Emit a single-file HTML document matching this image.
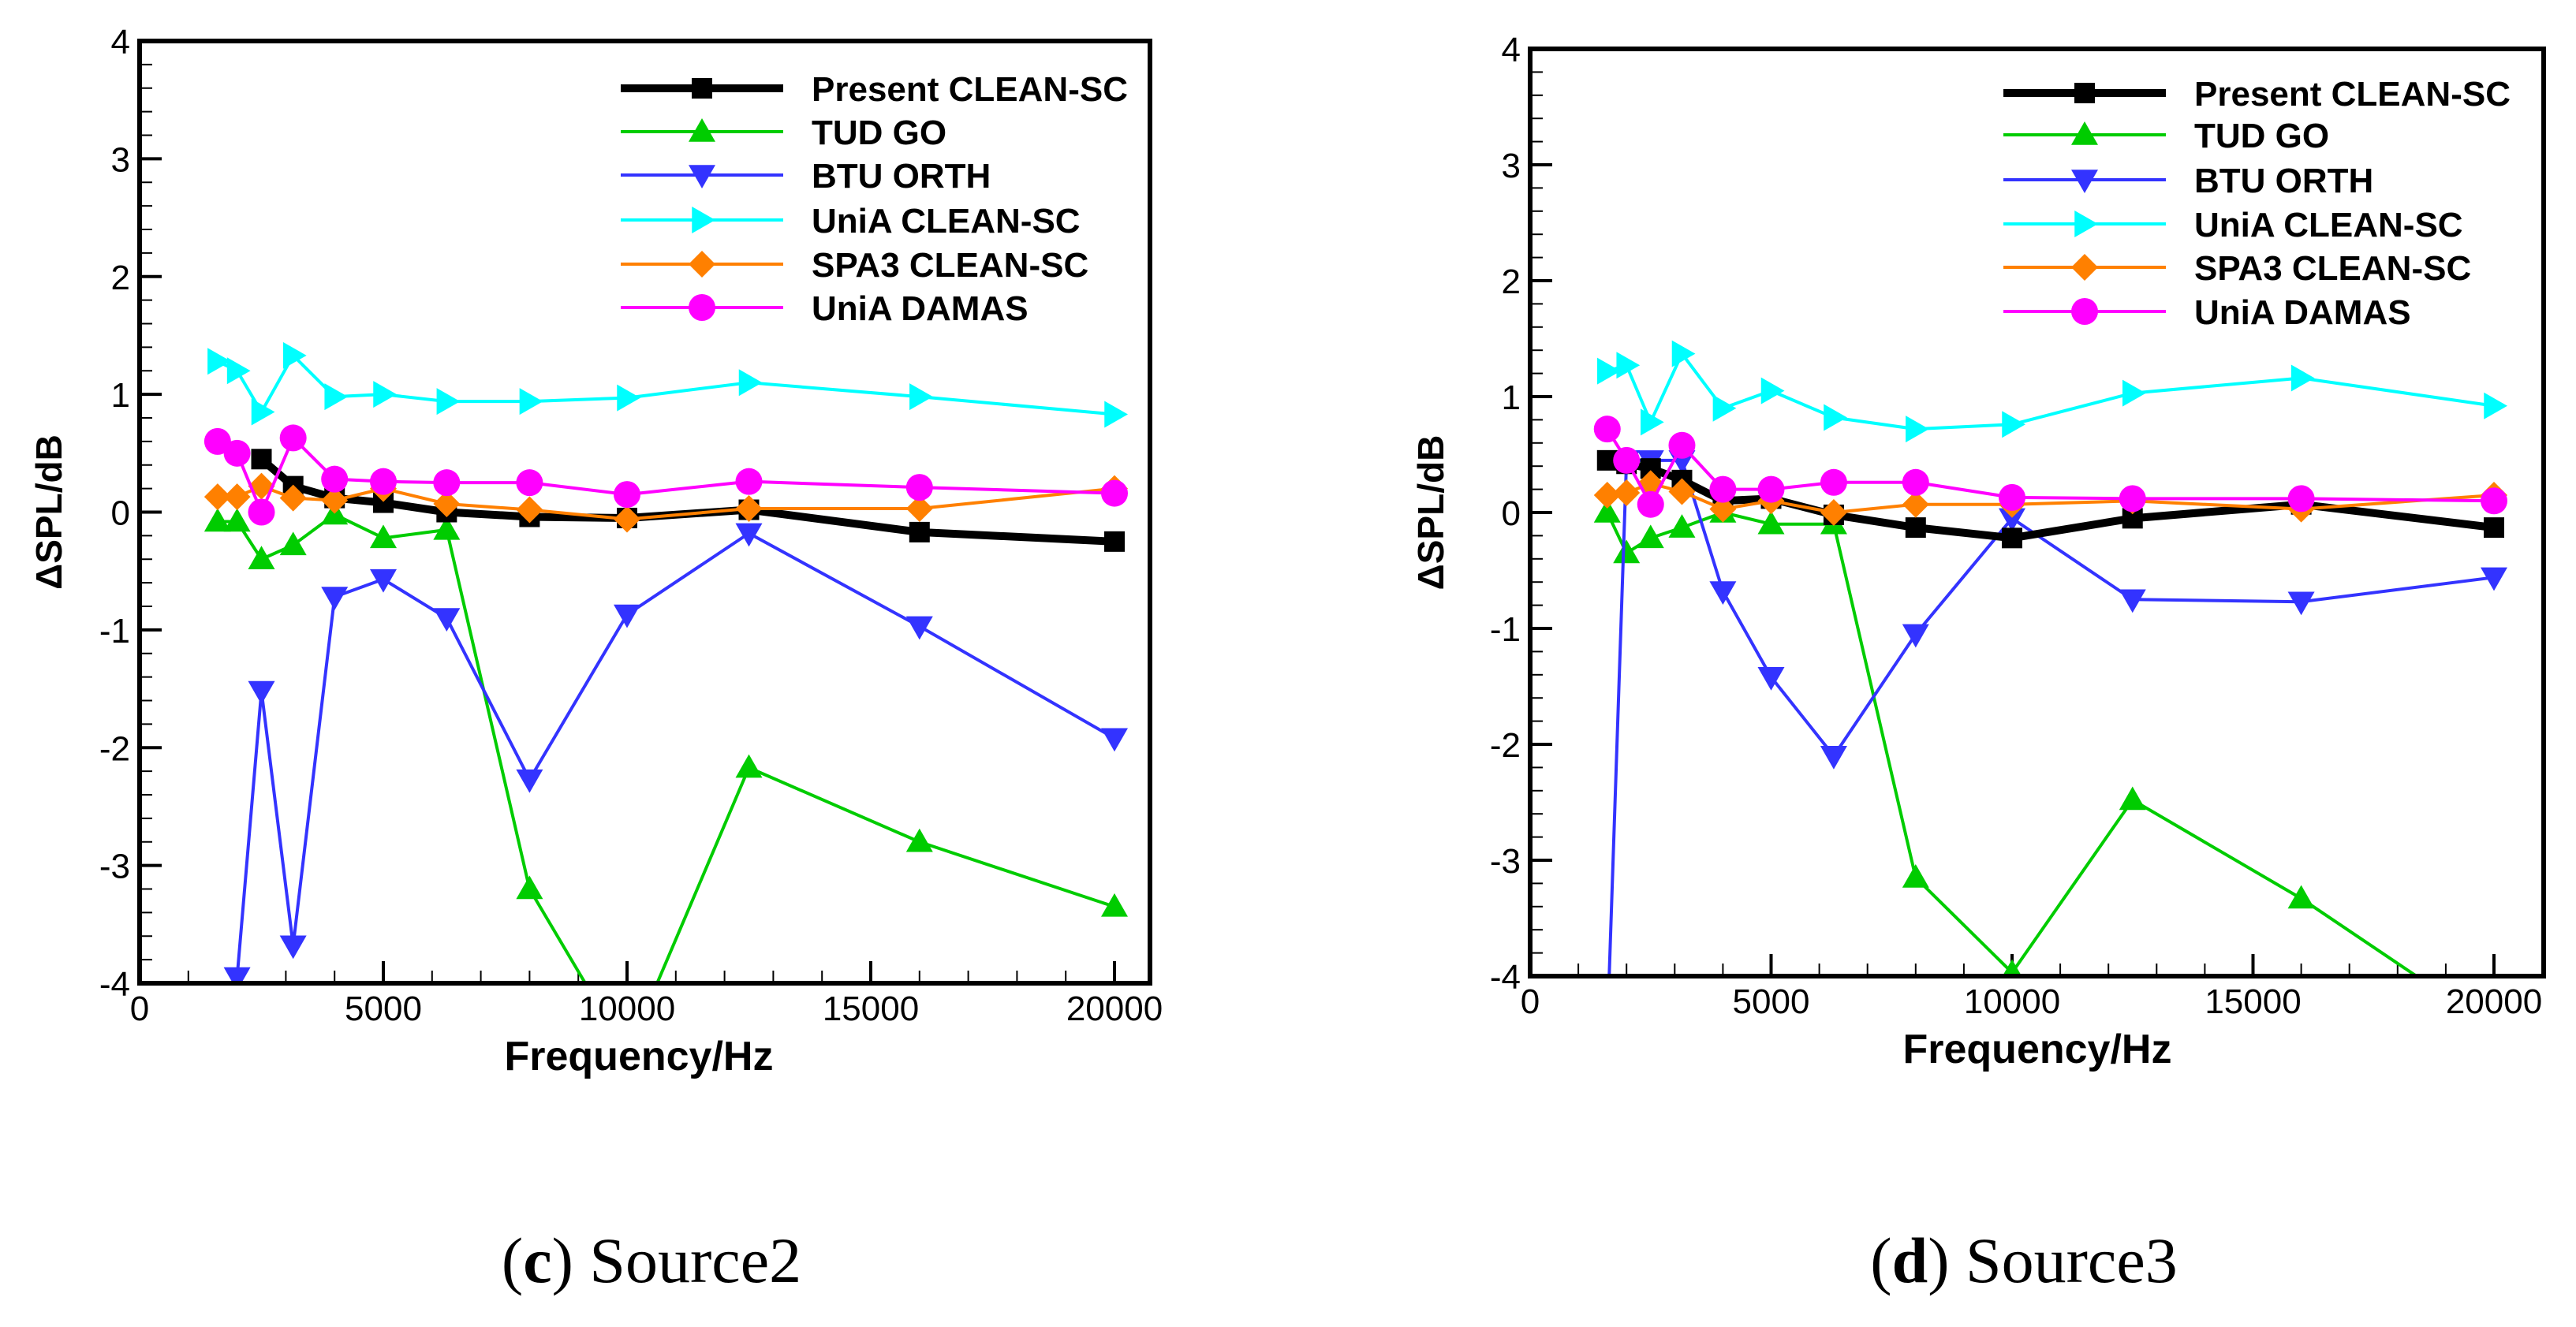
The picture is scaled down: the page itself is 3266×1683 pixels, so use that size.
<!DOCTYPE html>
<html><head><meta charset="utf-8"><style>
body{margin:0;background:#fff}
svg{display:block}
text{font-family:"Liberation Sans",Arial,sans-serif}
text.cap{font-family:"Liberation Serif","Times New Roman",serif}
</style></head><body>
<svg id="fig" width="3266" height="1683" viewBox="0 0 3266 1683" xmlns="http://www.w3.org/2000/svg"></svg>
<script>
const freqs = [1600,2000,2500,3150,4000,5000,6300,8000,10000,12500,16000,20000];
const seriesNames = ["Present CLEAN-SC","TUD GO","BTU ORTH","UniA CLEAN-SC","SPA3 CLEAN-SC","UniA DAMAS"];
const xTicks = [0,5000,10000,15000,20000];
const yTicks = [-4,-3,-2,-1,0,1,2,3,4];
// Source2 (c)
const c_present = [null,null,0.45,0.22,0.12,0.08,0.0,-0.04,-0.05,0.02,-0.17,-0.25];
const c_tud     = [-0.08,-0.08,-0.4,-0.28,-0.02,-0.22,-0.15,-3.2,-4.6,-2.17,-2.8,-3.35];
const c_btu     = [null,-3.95,-1.52,-3.68,-0.72,-0.57,-0.9,-2.27,-0.87,-0.18,-0.97,-1.92];
const c_uniaCs  = [1.28,1.2,0.85,1.33,0.98,1.0,0.94,0.94,0.97,1.1,0.98,0.83];
const c_spa3    = [0.13,0.13,0.22,0.12,0.1,0.2,0.07,0.02,-0.06,0.03,0.03,0.2];
const c_damas   = [0.6,0.5,0.0,0.63,0.28,0.26,0.25,0.25,0.15,0.26,0.21,0.16];
// Source3 (d)
const d_present = [0.45,0.42,0.38,0.28,0.1,0.12,-0.02,-0.13,-0.22,-0.05,0.07,-0.13];
const d_tud     = [0.0,-0.35,-0.22,-0.13,0.0,-0.1,-0.1,-3.15,-3.97,-2.48,-3.33,-4.45];
const d_btu     = [-4.5,0.45,0.45,0.45,-0.68,-1.42,-2.1,-1.05,-0.05,-0.75,-0.77,-0.56];
const d_uniaCs  = [1.22,1.27,0.78,1.37,0.9,1.05,0.82,0.72,0.76,1.03,1.16,0.92];
const d_spa3    = [0.15,0.17,0.25,0.18,0.03,0.1,0.0,0.07,0.07,0.1,0.03,0.15];
const d_damas   = [0.72,0.45,0.07,0.58,0.2,0.2,0.26,0.26,0.13,0.12,0.12,0.1];

const NS="http://www.w3.org/2000/svg";
const svg=document.getElementById('fig');
function mk(tag,attrs,parent){const e=document.createElementNS(NS,tag);for(const k in attrs)e.setAttribute(k,attrs[k]);(parent||svg).appendChild(e);return e;}
const colors=["#000000","#00cc00","#3333ff","#00ffff","#ff8000","#ff00ff"];
const widths=[10,4,4,4,4,4];
const markers=["square","tri-up","tri-down","tri-right","diamond","circle"];
function marker(g,type,x,y,col){
  let e;
  if(type==="square") e=mk('rect',{x:x-13,y:y-13,width:26,height:26,fill:col},g);
  else if(type==="circle") e=mk('circle',{cx:x,cy:y,r:17,fill:col},g);
  else{
    let p;const r=17;
    if(type==="tri-up")p=[[x,y-r],[x+r,y+r*0.75],[x-r,y+r*0.75]];
    if(type==="tri-down")p=[[x,y+r],[x+r,y-r*0.75],[x-r,y-r*0.75]];
    if(type==="tri-right")p=[[x+r,y],[x-r*0.75,y-r],[x-r*0.75,y+r]];
    if(type==="diamond")p=[[x,y-r],[x+r,y],[x,y+r],[x-r,y]];
    e=mk('polygon',{points:p.map(q=>q.join(',')).join(' '),fill:col},g);
  }
  return e;
}
function panel(id,L,R,T,B,x20k,data,legX,legY,titleX,ylabX,caption,capX){
  const g=mk('g',{});
  
  
  const xs=v=>L+(x20k-L)*v/20000;
  const ys=v=>B-(B-T)*(v+4)/8;
  const cid='clip-'+id;
  const defs=mk('defs',{},g);
  const cp=mk('clipPath',{id:cid},defs);
  mk('rect',{x:L,y:T,width:R-L,height:B-T},cp);
  for(let f=1000;f<=20000+1;f+=1000){
    const x=xs(f),major=f%5000===0;
    mk('line',{x1:x,y1:B,x2:x,y2:B-(major?28:16),stroke:'#000','stroke-width':major?4:2},g);
  }
  for(let v=-4;v<=4.001;v+=0.2){
    const y=ys(v),major=Math.abs(v-Math.round(v))<1e-6;
    mk('line',{x1:L,y1:y,x2:L+(major?28:16),y2:y,stroke:'#000','stroke-width':major?4:2},g);
  }
  xTicks.forEach(t=>{
    const e=mk('text',{x:xs(t),y:B+47,'font-size':44,'text-anchor':'middle'},g);e.textContent=t;
    
    
  });
  yTicks.forEach(t=>{
    const e=mk('text',{x:L-12,y:ys(t)+16,'font-size':44,'text-anchor':'end'},g);e.textContent=t;
    
    
  });
  const sg=mk('g',{'clip-path':'url(#'+cid+')'},g);
  const order=[3,1,2,0,4,5];
  order.forEach(i=>{
    const vals=data[i];
    const pts=[];freqs.forEach((f,k)=>{if(vals[k]!==null)pts.push([xs(f),ys(vals[k])]);});
    const s=mk('g',{},sg);
    
    
    mk('polyline',{points:pts.map(p=>p.join(',')).join(' '),fill:'none',stroke:colors[i],'stroke-width':widths[i],'stroke-linejoin':'round'},s);
    pts.forEach(p=>{const m=marker(s,markers[i],p[0],p[1],colors[i]);
      
      });
  });
  const fr=mk('rect',{x:L,y:T,width:R-L,height:B-T,fill:'none',stroke:'#000','stroke-width':6},g);
  
  
  const lg=mk('g',{},g);
  
  
  seriesNames.forEach((n,i)=>{
    const y=legY[i];
    const en=mk('g',{},lg);
    
    
    mk('line',{x1:legX,y1:y,x2:legX+206,y2:y,stroke:colors[i],'stroke-width':widths[i]},en);
    marker(en,markers[i],legX+103,y,colors[i]);
    const t=mk('text',{x:legX+242,y:y+16,'font-size':44,'font-weight':'bold'},en);t.textContent=n;
  });
  const xt=mk('text',{x:titleX,y:B+110,'font-size':52,'font-weight':'bold','text-anchor':'middle'},g);
  xt.textContent='Frequency/Hz';
  
  
  const cy=ys(0);
  const yt=mk('text',{x:ylabX,y:cy,'font-size':46,'font-weight':'bold','text-anchor':'middle',transform:`rotate(-90 ${ylabX} ${cy})`},g);
  yt.textContent='ΔSPL/dB';
  
  
  const cap=mk('text',{x:capX,y:1626,'font-size':82,'text-anchor':'middle','class':'cap'},g);
  cap.innerHTML='(<tspan font-weight="bold">'+caption[0]+'</tspan>) '+caption[1];
  
  
}
panel('source2',177,1458,52,1247,1413,[c_present,c_tud,c_btu,c_uniaCs,c_spa3,c_damas],787,[112,167,222,279,335,390],810,78,['c','Source2'],826);
panel('source3',1940,3225,62,1238,3162,[d_present,d_tud,d_btu,d_uniaCs,d_spa3,d_damas],2540,[118,171,228,284,339,395],2583,1830,['d','Source3'],2566);
</script>
</body></html>
